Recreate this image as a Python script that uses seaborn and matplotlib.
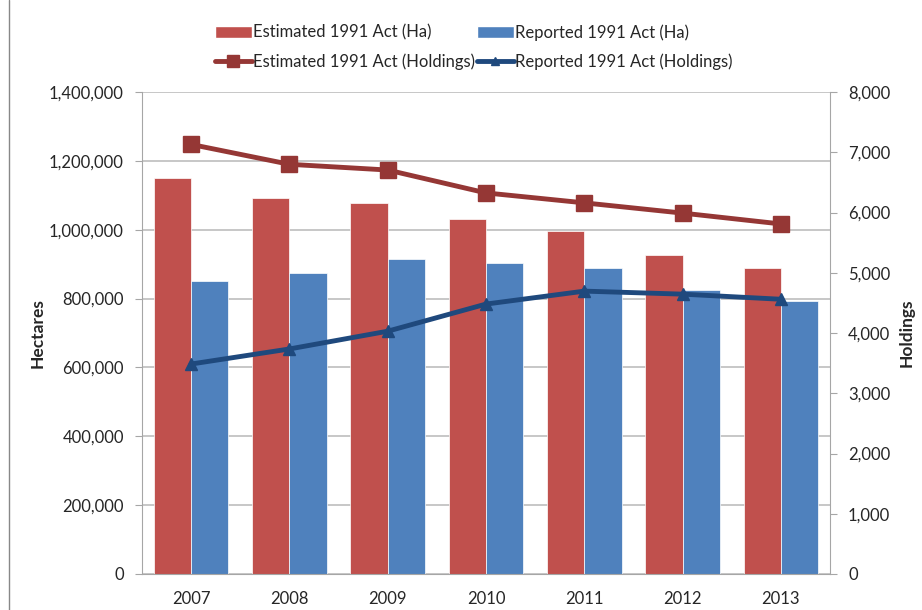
import matplotlib
matplotlib.use("Agg")
import matplotlib.pyplot as plt
import seaborn as sns
import pandas as pd
import numpy as np
from matplotlib.ticker import FuncFormatter, MultipleLocator
from matplotlib.patches import Patch
from matplotlib.lines import Line2D

years = ["2007", "2008", "2009", "2010", "2011", "2012", "2013"]
est_ha = [1150000, 1091000, 1077000, 1032000, 996000, 926000, 888000]
rep_ha = [850000, 874000, 914000, 903000, 888000, 824000, 792000]
est_hold = [7130, 6800, 6705, 6325, 6160, 5990, 5810]
rep_hold = [3485, 3735, 4030, 4480, 4695, 4645, 4560]

lbl_est_ha = "Estimated 1991 Act (Ha)"
lbl_rep_ha = "Reported 1991 Act (Ha)"
lbl_est_h = "Estimated 1991 Act (Holdings)"
lbl_rep_h = "Reported 1991 Act (Holdings)"

RED = "#C0504D"
BLUE = "#4F81BD"
DRED = "#953735"
DBLUE = "#1F497D"

sns.set_style("white")
plt.rcParams['font.family'] = ['Lato', 'DejaVu Sans']
plt.rcParams['font.size'] = 11

df = pd.DataFrame({
    "Year": years * 2,
    "Hectares": est_ha + rep_ha,
    "Series": [lbl_est_ha] * len(years) + [lbl_rep_ha] * len(years),
})

fig = plt.figure(figsize=(9.22, 6.10), dpi=100)
ax = fig.add_axes([142/922, 1 - 574/610, (830-142)/922, (574-92)/610])

sns.barplot(data=df, x="Year", y="Hectares", hue="Series",
            palette=[RED, BLUE], width=0.76, ax=ax, legend=False,
            saturation=1, edgecolor="white", linewidth=0.5)

ax.set_xlim(-0.5, len(years) - 0.5)
ax.set_ylim(0, 1400000)
ax.yaxis.set_major_locator(MultipleLocator(200000))
ax.yaxis.set_major_formatter(FuncFormatter(lambda v, p: f"{int(v):,}"))
ax.grid(axis="y", color="#BEBEBE", linewidth=1.2)
ax.set_axisbelow(True)
ax.set_xlabel("")
ax.set_ylabel("")
fig.text(38/922, 1 - 333/610, "Hectares", rotation=90, ha="center", va="center",
         fontsize=12.5, fontweight="bold")
for s in ["top", "right"]:
    ax.spines[s].set_visible(False)
for s in ["left", "bottom"]:
    ax.spines[s].set_color("#A6A6A6")
ax.tick_params(axis="y", length=5, color="#A6A6A6", direction="out", pad=8, labelsize=12)
ax.tick_params(axis="x", length=0, pad=12, labelsize=12)
ax.set_xticks(np.arange(-0.5, len(years) + 0.5, 1), minor=True)
ax.tick_params(axis="x", which="minor", length=6, color="#A6A6A6")

ax2 = ax.twinx()
x = np.arange(len(years))
ax2.plot(x, est_hold, color=DRED, linewidth=3.5, marker="s", markersize=12,
         markerfacecolor=DRED, markeredgecolor=DRED)
ax2.plot(x, rep_hold, color=DBLUE, linewidth=3.5, marker="^", markersize=8,
         markerfacecolor=DBLUE, markeredgecolor=DBLUE)
ax2.set_ylim(0, 8000)
ax2.yaxis.set_major_locator(MultipleLocator(1000))
ax2.yaxis.set_major_formatter(FuncFormatter(lambda v, p: f"{int(v):,}"))
ax2.set_ylabel("")
fig.text(907/922, 1 - 333/610, "Holdings", rotation=90, ha="center", va="center",
         fontsize=12.5, fontweight="bold")
for s in ["top", "left", "bottom"]:
    ax2.spines[s].set_visible(False)
ax2.spines["right"].set_color("#A6A6A6")
ax2.tick_params(axis="y", length=5, color="#A6A6A6", direction="out", pad=8, labelsize=12)
ax2.grid(False)

handles = [Patch(facecolor=RED, label=lbl_est_ha),
           Line2D([0], [0], color=DRED, linewidth=3.5, marker="s", markersize=8, label=lbl_est_h),
           Patch(facecolor=BLUE, label=lbl_rep_ha),
           Line2D([0], [0], color=DBLUE, linewidth=3.5, marker="^", markersize=6, label=lbl_rep_h)]
fig.legend(handles=handles, loc="upper center", bbox_to_anchor=(474/922, 1 - 9/610),
           ncol=2, frameon=False, fontsize=12, handlelength=2.2, handletextpad=0.1,
           columnspacing=0.1, labelspacing=0.75)

fig.add_artist(Line2D([9/922, 9/922], [0, 1], color="#888888", linewidth=1, transform=fig.transFigure))

fig.savefig("out.png", dpi=100)
